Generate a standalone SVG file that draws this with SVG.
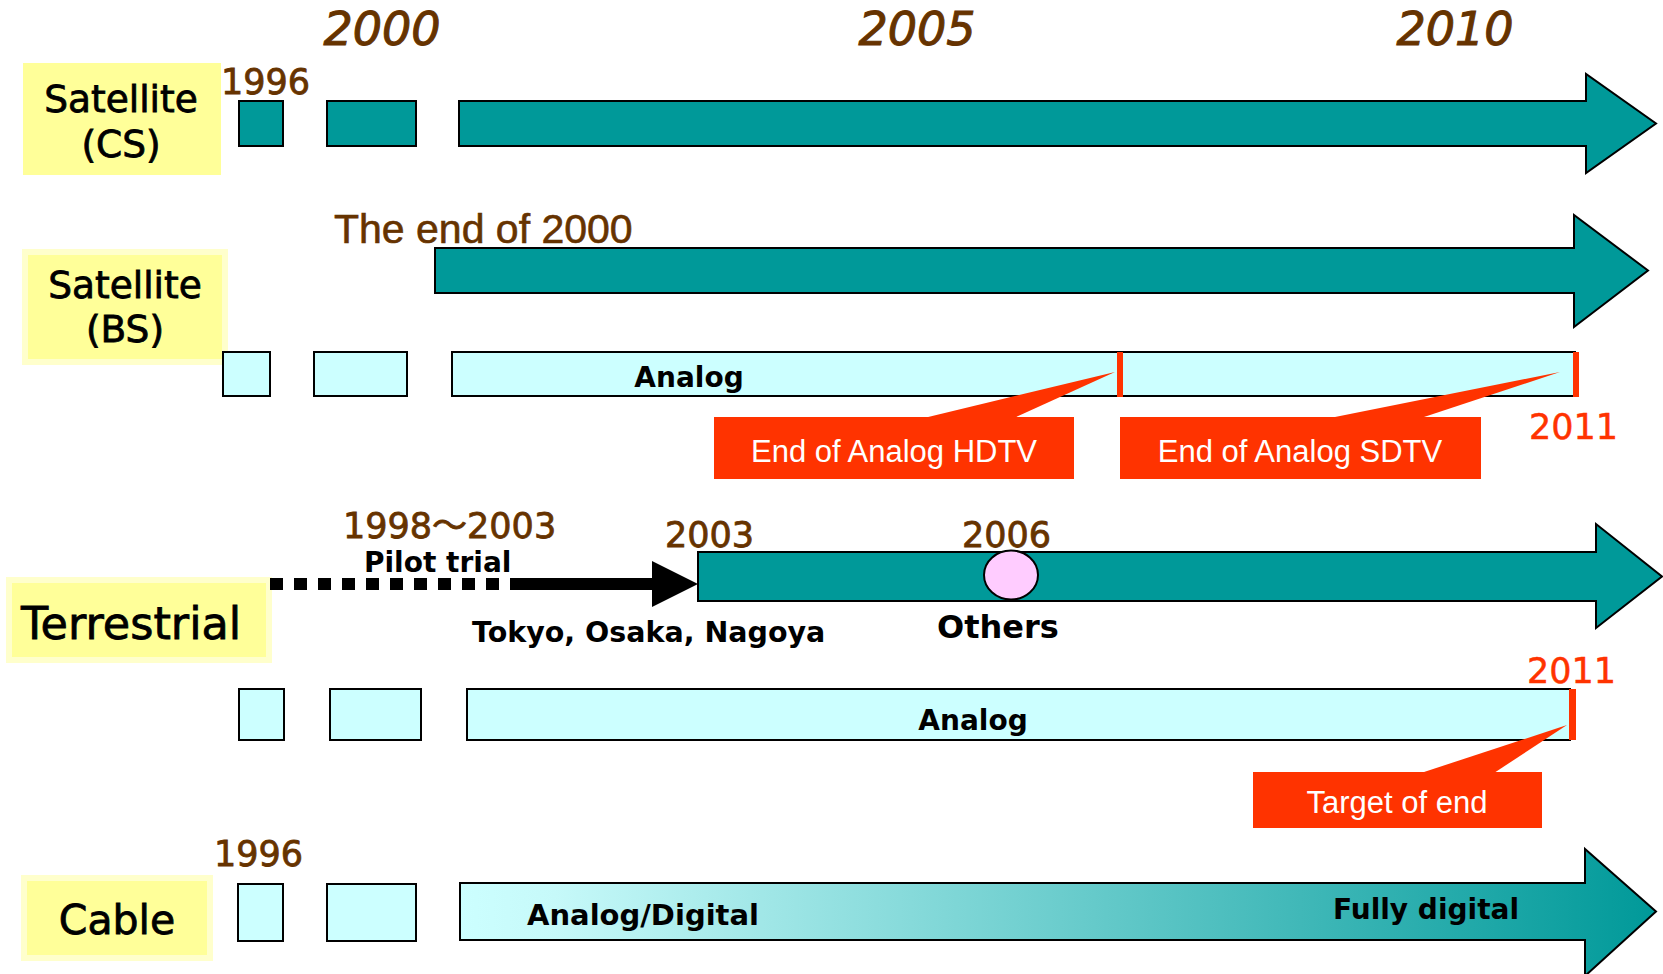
<svg xmlns="http://www.w3.org/2000/svg" width="1663" height="974" viewBox="0 0 1663 974">
<style>
.bg{fill:#FFFFFF}
.lbl{fill:#FFFF99;stroke:#FFFFCC;stroke-width:6}
.lblcs{fill:#FFFF99}
.teal{fill:#009999;stroke:#000;stroke-width:2}
.cyan{fill:#CCFFFF;stroke:#000;stroke-width:2}
.grad{fill:url(#cableGrad);stroke:#000;stroke-width:2}
.red{fill:#FF3300}
.name{font-family:"DejaVu Sans",Verdana,sans-serif;fill:#000;stroke:#000;stroke-width:0.8}
.yr{font-family:"DejaVu Sans",Verdana,sans-serif;font-size:35px;fill:#663300;stroke:#663300;stroke-width:0.8}
.yrbig{font-family:"DejaVu Sans",Verdana,sans-serif;font-size:46px;font-style:italic;fill:#663300;stroke:#663300;stroke-width:1;text-anchor:middle}
.bold{font-family:"DejaVu Sans",Verdana,sans-serif;font-weight:bold;fill:#000}
.call{font-family:"Liberation Sans",Arial,sans-serif;font-size:31px;fill:#FFFFFF;text-anchor:middle}
.red11{font-family:"DejaVu Sans",Verdana,sans-serif;font-size:35px;fill:#FF3300;stroke:#FF3300;stroke-width:0.5}
.mid{text-anchor:middle}
</style>
<defs>
<linearGradient id="cableGrad" gradientUnits="userSpaceOnUse" x1="460" y1="0" x2="1656" y2="0">
<stop offset="0" stop-color="#CCFFFF"/>
<stop offset="0.08" stop-color="#C6F9F9"/>
<stop offset="1" stop-color="#009999"/>
</linearGradient>
</defs>
<rect class="bg" x="0" y="0" width="1663" height="974"/>

<g id="year-axis">
<text class="yrbig" x="382" y="45">2000</text>
<text class="yrbig" x="917" y="45">2005</text>
<text class="yrbig" x="1455" y="45">2010</text>
</g>

<g id="satellite-cs">
<rect class="lblcs" x="23" y="63" width="198" height="112"/>
<text class="name mid" x="121" y="112" font-size="37.5">Satellite</text>
<text class="name mid" x="121" y="157" font-size="37.5">(CS)</text>
<text class="yr" x="221" y="94">1996</text>
<rect class="teal" x="239" y="101" width="44" height="45"/>
<rect class="teal" x="327" y="101" width="89" height="45"/>
<path class="teal" d="M459,101 H1586 V74 L1656,123.5 L1586,173 V146 H459 Z"/>
</g>

<g id="satellite-bs">
<rect class="lbl" x="25" y="252" width="200" height="110"/>
<text class="name mid" x="125" y="298" font-size="37.5">Satellite</text>
<text class="name mid" x="125" y="342" font-size="37.5">(BS)</text>
<text x="334" y="243" font-family="Liberation Sans, Arial, sans-serif" font-size="41" fill="#663300" stroke="#663300" stroke-width="0.6">The end of 2000</text>
<path class="teal" d="M435,248 H1574 V215 L1648,270.5 L1574,327 V293 H435 Z"/>
<rect class="cyan" x="223" y="352" width="47" height="44"/>
<rect class="cyan" x="314" y="352" width="93" height="44"/>
<rect class="cyan" x="452" y="352" width="1123" height="44"/>
<text class="bold mid" x="689" y="387" font-size="28">Analog</text>
<rect class="red" x="1117" y="352" width="6" height="45"/>
<rect class="red" x="1573" y="352" width="6" height="45"/>
<text class="red11" x="1529" y="439">2011</text>
</g>

<g id="callout-hdtv">
<rect class="red" x="714" y="417" width="360" height="62"/>
<text class="call" x="894" y="462">End of Analog HDTV</text>
</g>

<g id="callout-sdtv">
<rect class="red" x="1120" y="417" width="361" height="62"/>
<text class="call" x="1300" y="462">End of Analog SDTV</text>
</g>

<g id="terrestrial">
<rect class="lbl" x="9" y="580" width="260" height="80"/>
<text class="name" x="21" y="639" font-size="44.5">Terrestrial</text>
<text x="343" y="538" font-family="DejaVu Sans, Noto Sans CJK JP, sans-serif" font-size="35" fill="#663300" stroke="#663300" stroke-width="0.8">1998～2003</text>
<text class="bold" x="364" y="572" font-size="28">Pilot trial</text>
<text class="yr" x="665" y="547">2003</text>
<text class="yr" x="962" y="547">2006</text>
<path class="teal" d="M698,552 H1596 V524 L1662,576.5 L1596,628 V601 H698 Z"/>
<ellipse cx="1011" cy="575" rx="27" ry="24.5" fill="#FFCCFF" stroke="#000" stroke-width="2"/>
<text class="bold" x="472" y="642" font-size="28.5">Tokyo, Osaka, Nagoya</text>
<text class="bold" x="937" y="638" font-size="32">Others</text>
<rect class="cyan" x="239" y="689" width="45" height="51"/>
<rect class="cyan" x="330" y="689" width="91" height="51"/>
<rect class="cyan" x="467" y="689" width="1103" height="51"/>
<text class="bold mid" x="973" y="730" font-size="28">Analog</text>
<rect class="red" x="1569" y="689" width="7" height="51"/>
<text class="red11" x="1527" y="683">2011</text>
</g>

<g id="callout-target">
<rect class="red" x="1253" y="772" width="289" height="56"/>
<text class="call" x="1397" y="813">Target of end</text>
</g>

<g id="cable">
<rect class="lbl" x="24" y="878" width="186" height="80"/>
<text class="name mid" x="117" y="934" font-size="41">Cable</text>
<text class="yr" x="214" y="866">1996</text>
<rect class="cyan" x="238" y="884" width="45" height="57"/>
<rect class="cyan" x="327" y="884" width="89" height="57"/>
<path class="grad" d="M460,883 H1585 V849 L1656,911.5 L1585,976 V940 H460 Z"/>
<text class="bold" x="527" y="925" font-size="29" fill="#000033">Analog/Digital</text>
<text class="bold" x="1333" y="919" font-size="28">Fully digital</text>
</g>

<g id="connectors">
<line x1="270" y1="584" x2="523" y2="584" stroke="#000" stroke-width="12" stroke-dasharray="13 11"/>
<line x1="521" y1="584" x2="654" y2="584" stroke="#000" stroke-width="12"/>
<polygon points="652,561 698,584 652,607" fill="#000"/>
<polygon class="red" points="924,418 1115,372 1014,418"/>
<polygon class="red" points="1330,418 1560,372 1421,418"/>
<polygon class="red" points="1421,773 1567,725 1494,773"/>
</g>
</svg>
